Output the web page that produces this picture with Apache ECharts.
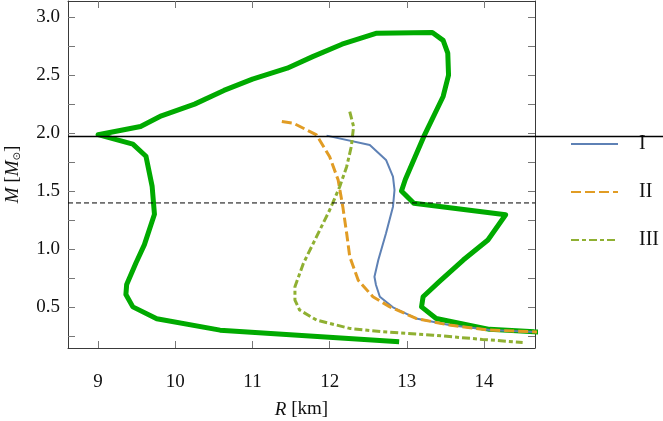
<!DOCTYPE html>
<html>
<head>
<meta charset="utf-8">
<script src="https://cdn.jsdelivr.net/npm/echarts@6/dist/echarts.min.js"></script>
<style>
  html, body { margin: 0; padding: 0; background: #fff; }
  #chart { width: 663px; height: 421px; }
</style>
</head>
<body>
<div id="chart"></div>
<script>
// mass-radius curves (R in km, M in solar masses)
const thickR = [12.90, 10.58, 9.76, 9.45, 9.36, 9.37, 9.49, 9.60, 9.73, 9.70, 9.62, 9.45, 9.00, 9.55, 9.82, 10.25, 10.63, 11.00, 11.45, 11.78, 12.16, 12.61, 13.33, 13.47, 13.53, 13.54, 13.47, 13.22, 12.98, 12.93, 13.09, 14.28, 14.05, 13.73, 13.42, 13.21, 13.19, 13.38, 14.07, 14.65, 14.75]
const thickM = [0.198, 0.299, 0.397, 0.500, 0.606, 0.693, 0.879, 1.037, 1.300, 1.540, 1.800, 1.905, 1.986, 2.057, 2.149, 2.250, 2.368, 2.466, 2.560, 2.660, 2.767, 2.862, 2.868, 2.800, 2.690, 2.500, 2.316, 1.971, 1.600, 1.500, 1.394, 1.295, 1.077, 0.904, 0.717, 0.587, 0.500, 0.400, 0.306, 0.285, 0.283]

const eos1R = [11.96, 12.52, 12.73, 12.82, 12.84, 12.82, 12.73, 12.63, 12.58, 12.60, 12.65, 12.82, 13.12, 13.55, 14.07, 14.75]
const eos1M = [1.978, 1.897, 1.768, 1.624, 1.509, 1.365, 1.135, 0.904, 0.760, 0.689, 0.587, 0.496, 0.400, 0.343, 0.300, 0.282]

const eos2R = [11.38, 11.53, 11.83, 12.00, 12.11, 12.17, 12.22, 12.26, 12.37, 12.56, 12.78, 13.12, 13.55, 14.07, 14.75]
const eos2M = [2.099, 2.085, 1.984, 1.796, 1.595, 1.365, 1.135, 0.933, 0.730, 0.587, 0.500, 0.400, 0.343, 0.300, 0.282]

const eos3R = [12.26, 12.31, 12.28, 12.22, 12.13, 12.00, 11.83, 11.66, 11.55, 11.55, 11.61, 11.83, 12.26, 12.69, 13.34, 13.98, 14.50]
const eos3M = [2.185, 2.056, 1.883, 1.710, 1.537, 1.336, 1.106, 0.876, 0.674, 0.559, 0.473, 0.386, 0.314, 0.285, 0.256, 0.219, 0.193]

const legendNames = ['I', 'II', 'III']
const xTicks = [9, 10, 11, 12, 13, 14]
const yTicks = [0.25, 0.5, 0.75, 1.0, 1.25, 1.5, 1.75, 2.0, 2.25, 2.5, 2.75, 3.0]
const yLabels = [0.5, 1.0, 1.5, 2.0, 2.5, 3.0]
const xRange = [8.61, 14.66]
const yRange = [0.145, 3.14]
const maxMassObs = 1.97    // solid horizontal line, runs past the frame to the page edge
const canonMass = 1.397    // dashed horizontal line
const wideRange = [8.61, 16.32]  // same km scale, stretched to the right edge of the page

const zip = (xs, ys) => xs.map((x, i) => [x, ys[i]])

const serif = 'Liberation Serif'
const frame = '#3a3a3a'

const chart = echarts.init(document.getElementById('chart'))

const mirrorX = (pos, labels) => ({
  type: 'value', position: pos, min: xRange[0], max: xRange[1], gridIndex: 0,
  axisLine: { show: true, onZero: false, lineStyle: { color: frame, width: 1 } },
  axisTick: { show: true, inside: true, length: 7, customValues: xTicks, lineStyle: { color: '#777' } },
  axisLabel: labels ? {
    show: true, customValues: xTicks, margin: 25,
    fontFamily: serif, fontSize: 19, color: '#111'
  } : { show: false },
  splitLine: { show: false }
})

const mirrorY = (pos, labels) => ({
  type: 'value', position: pos, min: yRange[0], max: yRange[1], gridIndex: 0,
  axisLine: { show: true, onZero: false, lineStyle: { color: frame, width: 1 } },
  axisTick: { show: true, inside: true, length: 7, customValues: yTicks, lineStyle: { color: '#777' } },
  axisLabel: labels ? {
    show: true, customValues: yLabels, margin: 8,
    fontFamily: serif, fontSize: 19, color: '#111',
    formatter: v => v.toFixed(1)
  } : { show: false },
  splitLine: { show: false }
})

const xMain = mirrorX('bottom', true)
xMain.name = '{it|R} [km]'
xMain.nameLocation = 'middle'
xMain.nameGap = 52
xMain.nameTextStyle = {
  fontFamily: serif, fontSize: 19, color: '#111',
  rich: { it: { fontFamily: serif, fontStyle: 'italic', fontSize: 19, color: '#111' } }
}

const yMain = mirrorY('left', true)
yMain.name = '{it|M} [{it|M}{sub|⊙}]'
yMain.nameLocation = 'middle'
yMain.nameGap = 46
yMain.nameRotate = 90
yMain.nameTextStyle = {
  fontFamily: serif, fontSize: 19, color: '#111',
  rich: {
    it: { fontFamily: serif, fontStyle: 'italic', fontSize: 19, color: '#111' },
    sub: { fontFamily: 'DejaVu Sans', fontSize: 10, color: '#111', verticalAlign: 'bottom', padding: [6, 0, 0, 0] }
  }
}

// hidden axes for the solid line that runs past the frame
const hiddenX = {
  type: 'value', gridIndex: 1, min: wideRange[0], max: wideRange[1], show: false,
  splitLine: { show: false }
}
const hiddenY = {
  type: 'value', gridIndex: 1, min: yRange[0], max: yRange[1], show: false,
  splitLine: { show: false }
}

const option = {
  animation: false,
  backgroundColor: '#fff',
  grid: [
    { left: 68, right: 128, top: 1, bottom: 73, containLabel: false, outerBoundsMode: 'none' },
    { left: 68, right: 0, top: 1, bottom: 73, containLabel: false, outerBoundsMode: 'none' }
  ],
  legend: {
    data: legendNames,
    orient: 'vertical',
    left: 565,
    top: 129,
    itemWidth: 47,
    itemHeight: 14,
    itemGap: 28,
    itemStyle: { opacity: 0 },
    textStyle: { fontFamily: serif, fontSize: 20, color: '#111', padding: [0, 0, 0, 16] }
  },
  xAxis: [xMain, mirrorX('top', false), hiddenX],
  yAxis: [yMain, mirrorY('right', false), hiddenY],
  series: [
    {
      name: 'thick', type: 'line', data: zip(thickR, thickM),
      symbol: 'none', z: 2,
      lineStyle: { color: '#00aa00', width: 5, join: 'round' }
    },
    {
      name: 'I', type: 'line', data: zip(eos1R, eos1M),
      symbol: 'none', z: 3, color: '#5e81b5',
      lineStyle: { color: '#5e81b5', width: 2 }
    },
    {
      name: 'II', type: 'line', data: zip(eos2R, eos2M),
      symbol: 'none', z: 3, color: '#e19c24',
      lineStyle: { color: '#e19c24', width: 3, type: [10, 4] }
    },
    {
      name: 'III', type: 'line', data: zip(eos3R, eos3M),
      symbol: 'none', z: 3, color: '#8fb032',
      lineStyle: { color: '#8fb032', width: 3, type: [8, 3, 4, 3] }
    },
    {
      name: 'maxM', type: 'line', symbol: 'none', z: 4,
      xAxisIndex: 2, yAxisIndex: 2,
      data: [[wideRange[0], maxMassObs], [wideRange[1], maxMassObs]],
      lineStyle: { color: '#000', width: 1.6 }
    },
    {
      name: 'canon', type: 'line', symbol: 'none', z: 4,
      data: [[xRange[0], canonMass], [xRange[1], canonMass]],
      lineStyle: { color: '#000', width: 1, type: [5, 3] }
    }
  ]
}

chart.setOption(option)
</script>
</body>
</html>
